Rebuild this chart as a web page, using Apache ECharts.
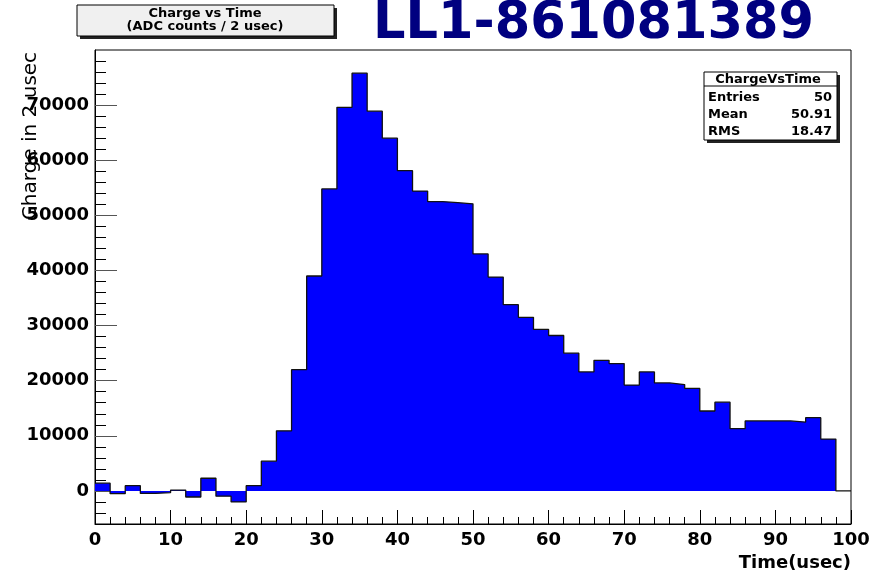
<!DOCTYPE html>
<html>
<head>
<meta charset="utf-8">
<script src="https://cdn.jsdelivr.net/npm/echarts@6/dist/echarts.min.js"></script>
<style>
html,body{margin:0;padding:0;background:#fff;}
#chart{width:889px;height:571px;}
</style>
</head>
<body>
<div id="chart"></div>
<script>
// Bin left edges (usec) and charge per bin
const binEdges = [0,2,4,6,8,10,12,14,16,18,20,22,24,26,28,30,32,34,36,38,40,42,44,46,48,50,52,54,56,58,60,62,64,66,68,70,72,74,76,78,80,82,84,86,88,90,92,94,96,98];
const charge = [1400,-500,950,-450,-300,150,-1100,2300,-950,-2000,
  950,5400,10900,22000,39000,54800,69600,75800,68900,64000,
  58100,54400,52500,52300,52100,43000,38800,33800,31500,29300,
  28200,25000,21600,23700,23100,19200,21600,19600,19300,18600,
  14500,16100,11300,12700,12700,12700,12500,13300,9400,0];
const xMax = 100;
const yTickLabels = [0,10000,20000,30000,40000,50000,60000,70000];
const yMinorTicks = [-4000,-2000,2000,4000,6000,8000,12000,14000,16000,18000,22000,24000,26000,28000,32000,34000,36000,38000,42000,44000,46000,48000,52000,54000,56000,58000,62000,64000,66000,68000,72000,74000,76000,78000];
const titleLines = ['Charge vs Time', '(ADC counts / 2 usec)'];
const mainTitle = 'LL1-861081389';
const statsName = 'ChargeVsTime';
const statsRows = [['Entries','50'],['Mean','50.91'],['RMS','18.47']];
const xTitle = 'Time(usec)';
const yTitle = 'Charge in 2 usec';

const stepData = binEdges.map((e, i) => [e, charge[i]]);
stepData.push([xMax, charge[charge.length - 1]]);

const chart = echarts.init(document.getElementById('chart'), null, {renderer: 'canvas'});
const BF = 'DejaVu Sans';
const statsText = [];
statsRows.forEach((r, i) => {
  statsText.push({type:'text', x:708, y:98 + i*17, style:{text:r[0], font:'bold 13px "DejaVu Sans"', fill:'#000', textAlign:'left', textVerticalAlign:'middle'}});
  statsText.push({type:'text', x:832, y:98 + i*17, style:{text:r[1], font:'bold 13px "DejaVu Sans"', fill:'#000', textAlign:'right', textVerticalAlign:'middle'}});
});

chart.setOption({
  animation: false,
  backgroundColor: '#fff',
  grid: {left: 95, top: 50, right: 38, bottom: 47, show: true, borderColor: '#000', borderWidth: 1, backgroundColor: 'transparent', containLabel: false},
  xAxis: {
    type: 'value', min: 0, max: xMax, interval: 10,
    axisLine: {show: true, onZero: false, lineStyle: {color: '#000', width: 1}},
    axisTick: {show: true, inside: true, length: 14, lineStyle: {color: '#000'}},
    minorTick: {show: true, splitNumber: 5, length: 7, lineStyle: {color: '#000'}},
    axisLabel: {fontFamily: BF, fontWeight: 'bold', fontSize: 18, color: '#000', margin: 7, showMinLabel: true, showMaxLabel: true, hideOverlap: false},
    splitLine: {show: false}
  },
  yAxis: [{
    type: 'value', min: -6000, max: 80000, position: 'left',
    axisLine: {show: true, lineStyle: {color: '#000', width: 1}},
    axisTick: {show: true, inside: true, length: 22, customValues: yTickLabels, lineStyle: {color: '#555'}},
    axisLabel: {customValues: yTickLabels, formatter: v => String(v), fontFamily: BF, fontWeight: 'bold', fontSize: 18, color: '#000', margin: 6, hideOverlap: false},
    splitLine: {show: false}
  }, {
    type: 'value', min: -6000, max: 80000, position: 'left', offset: 0,
    axisLine: {show: false},
    axisTick: {show: true, inside: true, length: 11, customValues: yMinorTicks, lineStyle: {color: '#000'}},
    axisLabel: {show: false},
    splitLine: {show: false}
  }],
  series: [{
    type: 'line', step: 'end', data: stepData, symbol: 'none', xAxisIndex: 0, yAxisIndex: 0,
    lineStyle: {color: '#111', width: 1.3},
    areaStyle: {color: '#0000ff', opacity: 1, origin: 0},
    z: 3
  }],
  graphic: [
    {type:'rect', shape:{x:80, y:8, width:257, height:31}, style:{fill:'#222'}, z: 10},
    {type:'rect', shape:{x:77, y:5, width:257, height:31}, style:{fill:'#f0f0f0', stroke:'#000', lineWidth:1}, z: 11},
    {type:'text', x:205, y:14, style:{text:titleLines[0], font:'bold 13px "DejaVu Sans"', fill:'#000', textAlign:'center', textVerticalAlign:'middle'}, z: 12},
    {type:'text', x:205, y:27, style:{text:titleLines[1], font:'bold 13px "DejaVu Sans"', fill:'#000', textAlign:'center', textVerticalAlign:'middle'}, z: 12},
    {type:'text', x:373, y:25, style:{text:mainTitle, font:'bold 51px "DejaVu Sans"', fill:'#000080', textAlign:'left', textVerticalAlign:'middle', textShadowColor:'#000', textShadowOffsetX:3, textShadowOffsetY:3, textShadowBlur:0}, z: 12},
    {type:'rect', shape:{x:707, y:75, width:133, height:68}, style:{fill:'#222'}, z: 10},
    {type:'rect', shape:{x:704, y:72, width:133, height:68}, style:{fill:'#fff', stroke:'#000', lineWidth:1}, z: 11},
    {type:'line', shape:{x1:704, y1:86, x2:837, y2:86}, style:{stroke:'#000', lineWidth:1}, z: 12},
    {type:'text', x:768, y:80, style:{text:statsName, font:'bold 13px "DejaVu Sans"', fill:'#000', textAlign:'center', textVerticalAlign:'middle'}, z: 12},
    ...statsText.map(t => Object.assign(t, {z: 12})),
    {type:'text', x:851, y:563, style:{text:xTitle, font:'bold 18px "DejaVu Sans"', fill:'#000', textAlign:'right', textVerticalAlign:'middle'}, z: 12},
    {type:'text', x:31, y:136, rotation: Math.PI/2, style:{text:yTitle, font:'20px "DejaVu Sans"', fill:'#000', textAlign:'center', textVerticalAlign:'middle'}, z: 12}
  ]
});
</script>
</body>
</html>
